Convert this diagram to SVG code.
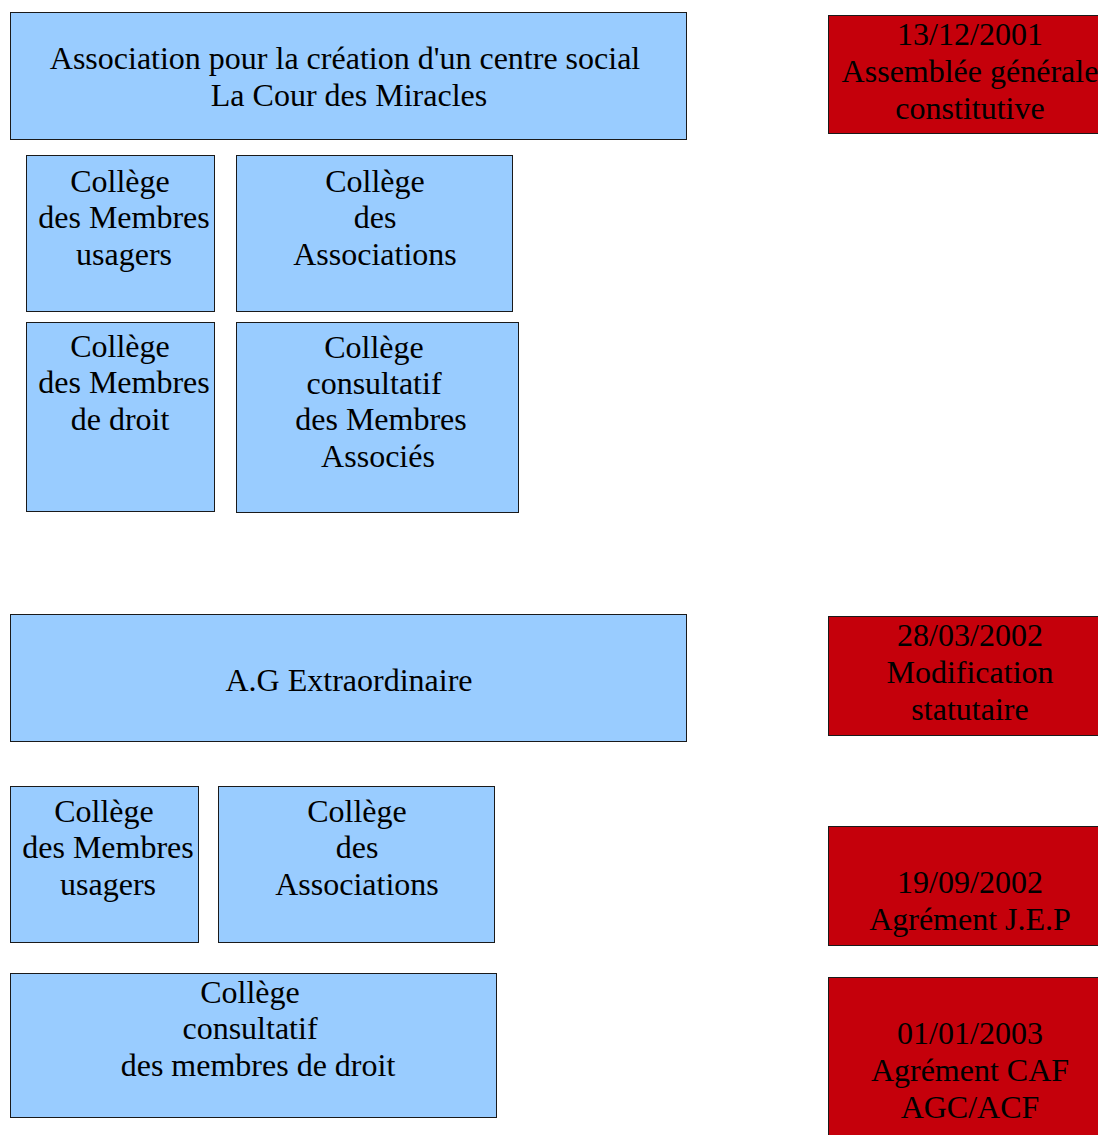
<svg xmlns="http://www.w3.org/2000/svg" width="1098" height="1135" viewBox="0 0 1098 1135">
<style>
.b{fill:#99ccff;stroke:#1a1a1a;stroke-width:1}
.r{fill:#c5000b;stroke:#1a1a1a;stroke-width:1}
text{fill:#000;text-anchor:middle;font-family:'Liberation Serif','Times New Roman',serif;font-size:32px}
</style>
<rect width="1098" height="1135" fill="#fff"/>
<g>
<g id="n-assoc"><rect class="b" x="10.5" y="12.5" width="676" height="127"/>
<text x="345" y="69">Association pour la création d'un centre social</text>
<text x="349" y="106">La Cour des Miracles</text></g>
<g id="n-d1"><rect class="r" x="828.5" y="15.5" width="280" height="118"/>
<text x="970" y="45">13/12/2001</text>
<text x="970" y="82">Assemblée générale</text>
<text x="970" y="119">constitutive</text></g>
<g id="n-usagers1"><rect class="b" x="26.5" y="155.5" width="188" height="156"/>
<text x="120" y="192">Collège</text>
<text x="124" y="228">des Membres</text>
<text x="124" y="265">usagers</text></g>
<g id="n-assocs1"><rect class="b" x="236.5" y="155.5" width="276" height="156"/>
<text x="375" y="192">Collège</text>
<text x="375" y="228">des</text>
<text x="375" y="265">Associations</text></g>
<g id="n-droit1"><rect class="b" x="26.5" y="322.5" width="188" height="189"/>
<text x="120" y="357">Collège</text>
<text x="124" y="393">des Membres</text>
<text x="120" y="430">de droit</text></g>
<g id="n-consult1"><rect class="b" x="236.5" y="322.5" width="282" height="190"/>
<text x="374" y="358">Collège</text>
<text x="374" y="394">consultatif</text>
<text x="381" y="430">des Membres</text>
<text x="378" y="467">Associés</text></g>
<g id="n-age"><rect class="b" x="10.5" y="614.5" width="676" height="127"/>
<text x="349" y="691">A.G Extraordinaire</text></g>
<g id="n-d2"><rect class="r" x="828.5" y="616.5" width="280" height="119"/>
<text x="970" y="646">28/03/2002</text>
<text x="970" y="683">Modification</text>
<text x="970" y="720">statutaire</text></g>
<g id="n-usagers2"><rect class="b" x="10.5" y="786.5" width="188" height="156"/>
<text x="104" y="822">Collège</text>
<text x="108" y="858">des Membres</text>
<text x="108" y="895">usagers</text></g>
<g id="n-assocs2"><rect class="b" x="218.5" y="786.5" width="276" height="156"/>
<text x="357" y="822">Collège</text>
<text x="357" y="858">des</text>
<text x="357" y="895">Associations</text></g>
<g id="n-consult2"><rect class="b" x="10.5" y="973.5" width="486" height="144"/>
<text x="250" y="1003">Collège</text>
<text x="250" y="1039">consultatif</text>
<text x="258" y="1076">des membres de droit</text></g>
<g id="n-d3"><rect class="r" x="828.5" y="826.5" width="280" height="119"/>
<text x="970" y="893">19/09/2002</text>
<text x="970" y="930">Agrément J.E.P</text></g>
<g id="n-d4"><rect class="r" x="828.5" y="977.5" width="280" height="170"/>
<text x="970" y="1044">01/01/2003</text>
<text x="970" y="1081">Agrément CAF</text>
<text x="970" y="1118">AGC/ACF</text></g>
</g>
<g id="connectors"></g>
</svg>
